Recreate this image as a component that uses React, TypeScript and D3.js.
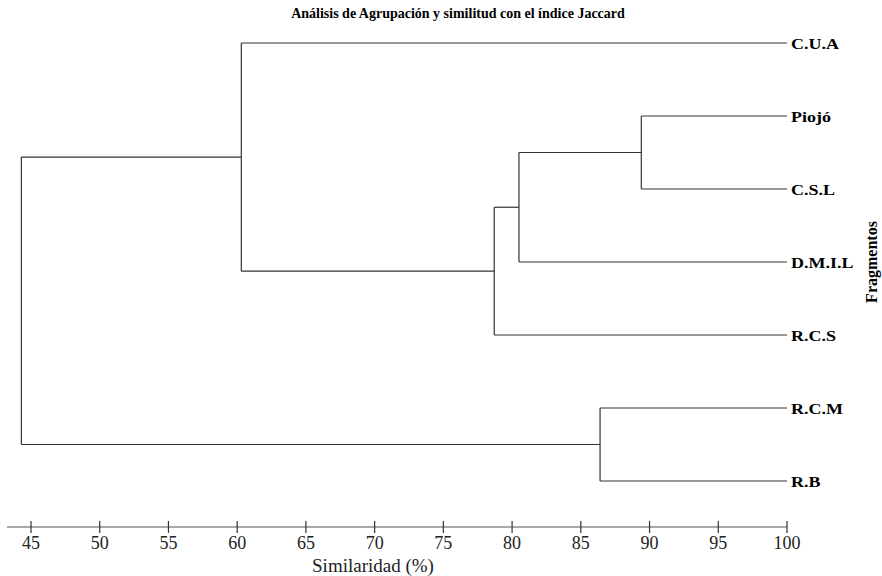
import React from "react";
import * as d3 from "d3";

const leafNames = ["C.U.A", "Piojó", "C.S.L", "D.M.I.L", "R.C.S", "R.C.M", "R.B"];
// merges: id, child A, child B, similarity (%)
const mergeIds = ["m1", "m2", "m3", "m4", "m5", "m6"];
const mergeA = ["Piojó", "m1", "m2", "C.U.A", "R.C.M", "m4"];
const mergeB = ["C.S.L", "D.M.I.L", "R.C.S", "m3", "R.B", "m5"];
const mergeSim = [89.4, 80.5, 78.7, 60.3, 86.4, 44.3];
const tickValues = [45, 50, 55, 60, 65, 70, 75, 80, 85, 90, 95, 100];

const W = 882;
const H = 576;

export default function App() {
  const x = d3.scaleLinear().domain([45, 100]).range([31, 787]);
  const y = d3.scalePoint<string>().domain(leafNames).range([43, 481]);

  const pos: Record<string, { x: number; y: number }> = {};
  leafNames.forEach((n) => (pos[n] = { x: x(100), y: y(n) as number }));
  const segs: { x1: number; y1: number; x2: number; y2: number }[] = [];
  mergeIds.forEach((id, i) => {
    const a = pos[mergeA[i]];
    const b = pos[mergeB[i]];
    const mx = x(mergeSim[i]);
    segs.push({ x1: a.x, y1: a.y, x2: mx, y2: a.y });
    segs.push({ x1: b.x, y1: b.y, x2: mx, y2: b.y });
    segs.push({ x1: mx, y1: a.y, x2: mx, y2: b.y });
    pos[id] = { x: mx, y: (a.y + b.y) / 2 };
  });

  const axisY = 527;
  const serif = "Liberation Serif";

  return (
    <div style={{ position: "absolute", left: 0, top: 0 }}>
      <svg width={W} height={H} style={{ display: "block", background: "#fff", fontFamily: serif }}>
        <text x={458} y={17.5} textAnchor="middle" fontFamily={serif} fontWeight="bold" fontSize={14} fill="#000">
          Análisis de Agrupación y similitud con el índice Jaccard
        </text>
        {segs.map((s, i) => (
          <line key={i} x1={s.x1} y1={s.y1} x2={s.x2} y2={s.y2} stroke="#333" strokeWidth={1.2} />
        ))}
        {leafNames.map((n) => (
          <text
            key={n}
            transform={`translate(791,${(y(n) as number) + 5.5}) scale(1.2,1)`}
            fontFamily={serif}
            fontWeight="bold"
            fontSize={15}
            fill="#000"
          >
            {n}
          </text>
        ))}
        <text
          transform={`translate(877,262) rotate(-90)`}
          textAnchor="middle"
          fontFamily={serif}
          fontWeight="bold"
          fontSize={16}
          fill="#000"
        >
          Fragmentos
        </text>
        <line x1={x(43.25)} y1={axisY} x2={x(100)} y2={axisY} stroke="#555" strokeWidth={1.2} />
        {tickValues.map((t) => (
          <g key={t}>
            <line x1={x(t)} y1={axisY - 6} x2={x(t)} y2={axisY + 6} stroke="#333" strokeWidth={1.2} />
            <text x={x(t)} y={axisY + 22} textAnchor="middle" fontFamily={serif} fontSize={18} fill="#222">
              {t}
            </text>
          </g>
        ))}
        <text x={373} y={572} textAnchor="middle" fontFamily={serif} fontSize={19} fill="#222">
          Similaridad (%)
        </text>
      </svg>
    </div>
  );
}
